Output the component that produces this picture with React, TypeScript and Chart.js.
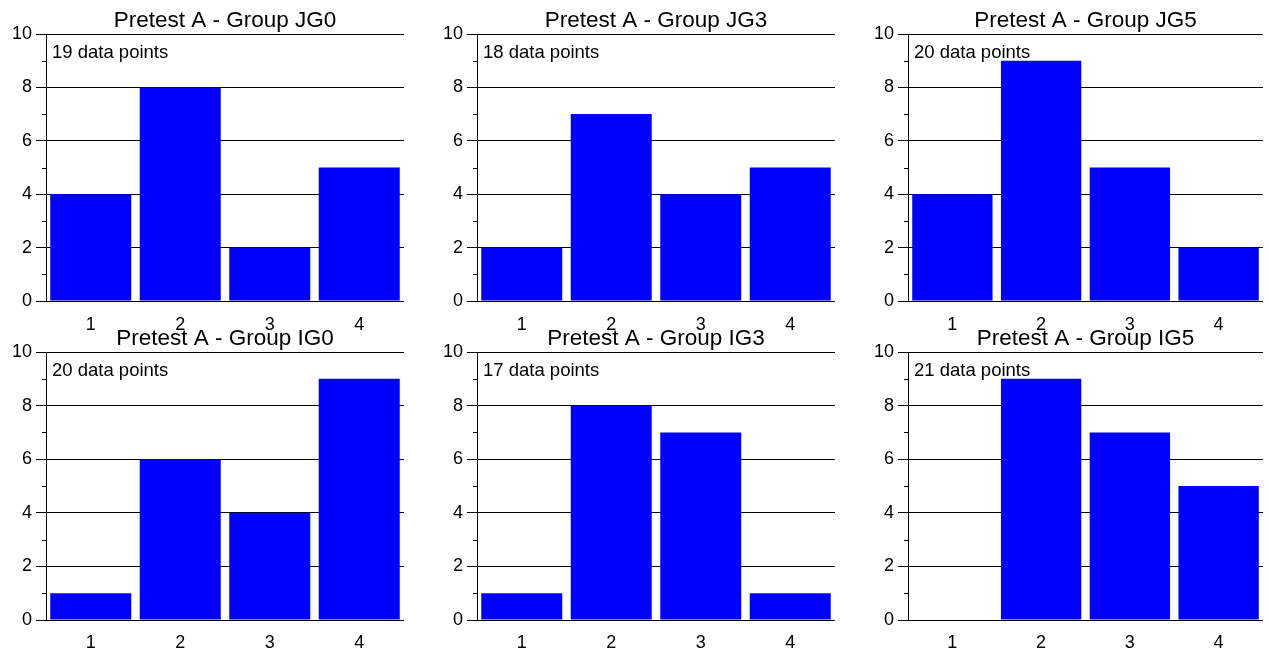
import React, { useEffect, useRef } from 'react';
import { Chart, registerables } from 'chart.js';

Chart.register(...registerables);

const CATEGORIES = ['1', '2', '3', '4'];
const Y_MIN = 0;
const Y_MAX = 10;
const MAJOR_STEP = 2;

const TITLES = [
  'Pretest A - Group JG0',
  'Pretest A - Group JG3',
  'Pretest A - Group JG5',
  'Pretest A - Group IG0',
  'Pretest A - Group IG3',
  'Pretest A - Group IG5',
];

const JG0 = [4, 8, 2, 5];
const JG3 = [2, 7, 4, 5];
const JG5 = [4, 9, 5, 2];
const IG0 = [1, 6, 4, 9];
const IG3 = [1, 8, 7, 1];
const IG5 = [0, 9, 7, 5];

const SERIES = [JG0, JG3, JG5, IG0, IG3, IG5];

const FONT = "Arial, 'Liberation Sans', Helvetica, sans-serif";
const BAR_COLOR = '#0000ff';
const TITLE_SIZE = 22.5;
const TICK_SIZE = 18;
const NOTE_SIZE = 18.5;

// layout constants
const COL_LEFT = [0, 431, 862];
const PLOT_W = [358, 358, 355];
const ROW_TOP = [0, 318];
const PLOT_H = [267, 268];
const Y_AXIS_W = 46;
const PLOT_TOP = 34;
const X_AXIS_H = 34;
const X_LABEL_PAD = [5, 4];

const extrasPlugin = {
  id: 'extras',
  afterDatasetsDraw(chart: any, _args: any, opts: any) {
    const { ctx, chartArea } = chart;
    const y = chart.scales.y;
    ctx.save();
    ctx.strokeStyle = '#000';
    ctx.lineWidth = 1;
    for (let v = Y_MIN + 1; v < Y_MAX; v += MAJOR_STEP) {
      const py = Math.round(y.getPixelForValue(v)) + 0.5;
      ctx.beginPath();
      ctx.moveTo(chartArea.left - 4, py);
      ctx.lineTo(chartArea.left, py);
      ctx.stroke();
    }
    ctx.font = `${NOTE_SIZE}px ${FONT}`;
    ctx.fillStyle = '#000';
    ctx.textBaseline = 'alphabetic';
    ctx.textAlign = 'left';
    ctx.fillText(opts.text, chartArea.left + 6, chartArea.top + 24);
    ctx.restore();
  },
};

function Panel({ idx }: { idx: number }) {
  const ref = useRef<HTMLCanvasElement | null>(null);
  const col = idx % 3;
  const row = Math.floor(idx / 3);
  const plotW = PLOT_W[col];
  const plotH = PLOT_H[row];
  const width = Y_AXIS_W + plotW + 3;
  const height = PLOT_TOP + plotH + X_AXIS_H;
  const values = SERIES[idx];
  const total = values.reduce((a, b) => a + b, 0);
  const titleLine = TITLE_SIZE * 1.2;
  const titleTopPad = 20.5 - titleLine / 2;

  useEffect(() => {
    if (!ref.current) return;
    const chart = new Chart(ref.current, {
      type: 'bar',
      data: {
        labels: CATEGORIES,
        datasets: [
          {
            data: values,
            backgroundColor: BAR_COLOR,
            borderWidth: 0,
            categoryPercentage: 1,
            barPercentage: 0.905,
          },
        ],
      },
      plugins: [extrasPlugin],
      options: {
        animation: false,
        responsive: false,
        devicePixelRatio: 1,
        layout: { padding: { left: 0, right: 3, top: 0, bottom: 0 } },
        plugins: {
          legend: { display: false },
          tooltip: { enabled: false },
          title: {
            display: true,
            text: TITLES[idx],
            fullSize: false,
            color: '#000',
            font: { family: FONT, size: TITLE_SIZE, weight: 'normal' },
            padding: { top: titleTopPad, bottom: PLOT_TOP - titleTopPad - titleLine },
          },
          extras: { text: `${total} data points` },
        } as any,
        scales: {
          x: {
            grid: { display: false },
            border: { display: false },
            ticks: {
              color: '#000',
              font: { family: FONT, size: TICK_SIZE },
              padding: X_LABEL_PAD[row],
              maxRotation: 0,
            },
            afterFit: (s: any) => {
              s.height = X_AXIS_H;
            },
          },
          y: {
            min: Y_MIN,
            max: Y_MAX,
            grid: {
              color: '#000',
              lineWidth: 1,
              tickLength: 10,
              tickColor: '#000',
            },
            border: { display: true, color: '#000', width: 1 },
            ticks: {
              stepSize: MAJOR_STEP,
              color: '#000',
              font: { family: FONT, size: TICK_SIZE },
              padding: 4,
            },
            afterFit: (s: any) => {
              s.width = Y_AXIS_W;
            },
          },
        },
      },
    });
    return () => chart.destroy();
  }, []);

  return (
    <canvas
      ref={ref}
      width={width}
      height={height}
      style={{
        position: 'absolute',
        left: COL_LEFT[col],
        top: ROW_TOP[row],
        width,
        height,
      }}
    />
  );
}

export default function App() {
  return (
    <div
      style={{
        position: 'absolute',
        left: 0,
        top: 0,
        width: 1269,
        height: 653,
        overflow: 'hidden',
        background: '#fff',
      }}
    >
      {SERIES.map((_, i) => (
        <Panel key={i} idx={i} />
      ))}
    </div>
  );
}
